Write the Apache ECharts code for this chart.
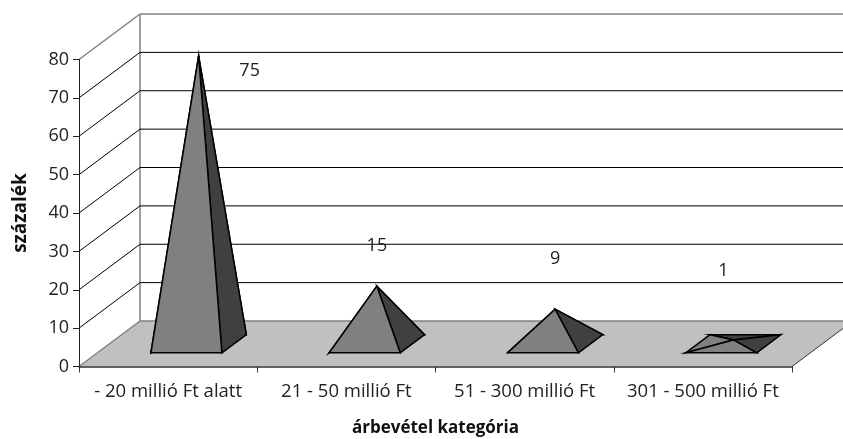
<!DOCTYPE html>
<html><head><meta charset="utf-8">
<script src="https://cdn.jsdelivr.net/npm/echarts@6/dist/echarts.min.js"></script>
<style>html,body{margin:0;padding:0;background:#fff}#c{width:843px;height:439px}</style>
</head><body><div id="c"></div>
<script>
const categories = ['- 20 millió Ft alatt', '21 - 50 millió Ft', '51 - 300 millió Ft', '301 - 500 millió Ft'];
const values = [75, 15, 9, 1];
const yTicks = [0, 10, 20, 30, 40, 50, 60, 70, 80];

const FONT = 'Open Sans';
const DEPTH_X = 61, DEPTH_Y = 45.5;
const BASE_W = 71, NEAR = 0.3, FAR = 0.7;
const labelShift = [[51, 15], [0, -40], [0, -50], [-10, -69]];

function depth(p, d) { return [p[0] + DEPTH_X * d, p[1] - DEPTH_Y * d]; }

const option = {
  animation: false,
  backgroundColor: '#fff',
  grid: { left: 79, right: 51, top: 59.5, height: 307, containLabel: false, outerBoundsMode: 'none' },
  xAxis: {
    type: 'category', data: categories, z: 10,
    name: 'árbevétel kategória', nameLocation: 'middle', nameGap: 53,
    nameTextStyle: { fontFamily: FONT, fontWeight: 'bold', fontSize: 17, color: '#111' },
    axisLine: { lineStyle: { color: '#333', width: 1.5 } },
    axisTick: { show: true, length: 6, alignWithLabel: false, lineStyle: { color: '#333' } },
    axisLabel: { fontFamily: FONT, fontSize: 18.5, color: '#222', margin: 16, interval: 0 },
    splitLine: { show: false }
  },
  yAxis: {
    type: 'value', min: 0, max: 80, interval: 10, z: 10,
    name: 'százalék', nameLocation: 'middle', nameGap: 49, nameRotate: 90,
    nameTextStyle: { fontFamily: FONT, fontWeight: 'bold', fontSize: 19, color: '#111' },
    axisLine: { show: true, lineStyle: { color: '#222', width: 1 } },
    axisTick: { show: true, length: 6, lineStyle: { color: '#222' } },
    axisLabel: { fontFamily: FONT, fontSize: 18, color: '#222', margin: 10 },
    splitLine: { show: false }
  },
  series: [
    {
      type: 'custom', z: 1, silent: true,
      data: yTicks.map(v => [0, v]),
      encode: { x: 0, y: 1 },
      renderItem(params, api) {
        const cs = params.coordSys, v = api.value(1);
        const y = api.coord([0, v])[1];
        const a = [cs.x, y], b = depth(a, 1);
        const c = [cs.x + cs.width + DEPTH_X, b[1]];
        const edge = v === 0 || v === 80;
        const col = edge ? '#808080' : '#000';
        const w = edge ? 1.5 : 1;
        const kids = [];
        if (v === 0) {
          const fr = [cs.x + cs.width, y];
          kids.push({ type: 'polygon', shape: { points: [a, b, c, fr] }, style: { fill: '#c0c0c0', stroke: null } });
          kids.push({ type: 'line', shape: { x1: fr[0], y1: fr[1], x2: c[0], y2: c[1] }, style: { stroke: '#333', lineWidth: 1 } });
          kids.push({ type: 'line', shape: { x1: b[0], y1: b[1], x2: b[0], y2: b[1] - cs.height }, style: { stroke: '#808080', lineWidth: 1.5 } });
        }
        kids.push({ type: 'line', shape: { x1: b[0], y1: b[1], x2: c[0], y2: c[1] }, style: { stroke: col, lineWidth: w } });
        kids.push({ type: 'line', shape: { x1: a[0], y1: a[1], x2: b[0], y2: b[1] }, style: { stroke: col, lineWidth: w } });
        return { type: 'group', children: kids };
      }
    },
    {
      type: 'custom', z: 5, silent: true,
      data: values.map((v, i) => [i, v]),
      encode: { x: 0, y: 1 },
      renderItem(params, api) {
        const i = api.value(0), v = api.value(1);
        const p0 = api.coord([i, 0]);
        const pv = api.coord([i, v]);
        const hw = BASE_W / 2;
        const fl = depth([p0[0] - hw, p0[1]], NEAR);
        const fr = depth([p0[0] + hw, p0[1]], NEAR);
        const bl = depth([p0[0] - hw, p0[1]], FAR);
        const br = depth([p0[0] + hw, p0[1]], FAR);
        const apex = depth(pv, 0.5);
        const face = (pts, fill) => ({
          type: 'polygon', shape: { points: pts },
          style: { fill, stroke: '#000', lineWidth: 1.5, lineJoin: 'miter' }
        });
        const s = labelShift[i];
        return {
          type: 'group',
          children: [
            face([bl, br, apex], '#404040'),
            face([fl, bl, apex], '#808080'),
            face([fr, br, apex], '#404040'),
            face([fl, fr, apex], '#808080'),
            {
              type: 'text',
              style: {
                text: String(v), x: apex[0] + s[0], y: apex[1] + s[1],
                align: 'center', verticalAlign: 'middle',
                font: '18px "' + FONT + '"', fill: '#222'
              }
            }
          ]
        };
      }
    }
  ]
};
echarts.init(document.getElementById('c'), null, { renderer: 'canvas' }).setOption(option);
</script></body></html>
